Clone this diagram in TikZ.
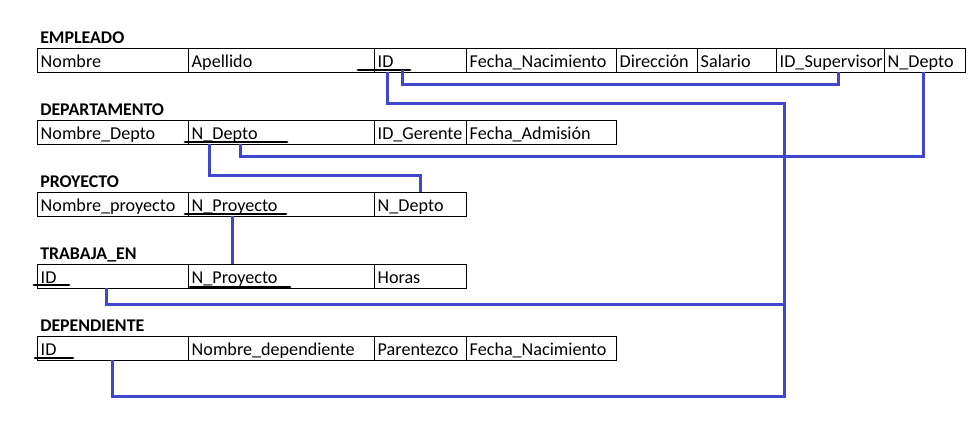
\documentclass[tikz,border=0pt]{standalone}
\usepackage{fontspec}
\setmainfont{Carlito}
\usetikzlibrary{calc}
\definecolor{linkblue}{HTML}{3F48CC}
\tikzset{
  cell/.style={draw=black, line width=0.75pt, anchor=north west, minimum height=18pt, inner sep=0pt, outer sep=0pt},
  ctext/.style={anchor=base west, inner sep=0pt, xshift=2.6pt, yshift=3.3pt, font=\fontsize{13.6pt}{16pt}\selectfont},
  ttl/.style={anchor=base west, inner sep=0pt, font=\fontsize{13.4pt}{16pt}\selectfont\bfseries},
  link/.style={draw=linkblue, line width=2.25pt, line join=miter},
  pk/.style={draw=black, line width=2.2pt, line cap=round},
}
\newcommand\cell[5]{\node[cell, minimum width={(#3-#2)*0.75pt}, label={[ctext]south west:#5}] (#1) at (#2,#4) {};}
\begin{document}
\begin{tikzpicture}[x=0.75pt,y=-0.75pt]
\useasboundingbox (0,0) rectangle (980,430);
% titles
\node[ttl] (tEmp) at (40,43) {EMPLEADO};
\node[ttl] (tDep) at (40,115) {DEPARTAMENTO};
\node[ttl] (tPro) at (40,187) {PROYECTO};
\node[ttl] (tTra) at (40,259) {TRABAJA\_EN};
\node[ttl] (tDpd) at (40,331) {DEPENDIENTE};
% EMPLEADO
\cell{eNom}{37}{188}{48}{Nombre}
\cell{eApe}{188}{374}{48}{Apellido}
\cell{eID}{374}{466}{48}{ID}
\cell{eFec}{466}{616}{48}{Fecha\_Nacimiento}
\cell{eDir}{616}{697}{48}{Dirección}
\cell{eSal}{697}{776}{48}{Salario}
\cell{eSup}{776}{884}{48}{ID\_Supervisor}
\cell{eNd}{884}{965}{48}{N\_Depto}
% DEPARTAMENTO
\cell{dNom}{37}{188}{120}{Nombre\_Depto}
\cell{dNd}{188}{374}{120}{N\_Depto}
\cell{dGer}{374}{466}{120}{ID\_Gerente}
\cell{dFec}{466}{616}{120}{Fecha\_Admisión}
% PROYECTO
\cell{pNom}{37}{188}{192}{Nombre\_proyecto}
\cell{pNp}{188}{374}{192}{N\_Proyecto}
\cell{pNd}{374}{466}{192}{N\_Depto}
% TRABAJA_EN
\cell{tID}{37}{188}{264}{ID}
\cell{tNp}{188}{374}{264}{N\_Proyecto}
\cell{tHor}{374}{466}{264}{Horas}
% DEPENDIENTE
\cell{qID}{37}{188}{336}{ID}
\cell{qNom}{188}{374}{336}{Nombre\_dependiente}
\cell{qPar}{374}{466}{336}{Parentezco}
\cell{qFec}{466}{616}{336}{Fecha\_Nacimiento}
% key underlines
\draw[pk] ($(eID.south west)+(-16,-2)$) -- ++(52,0);
\draw[pk] ($(dNd.south west)+(-3,-2)$) -- ++(102,0);
\draw[pk] ($(pNp.south west)+(-3,-2)$) -- ++(101,0);
\draw[pk] ($(tID.south west)+(-3,-3)$) -- ++(35,0);
\draw[pk] ($(tNp.south west)+(2,-1)$) -- ++(100,0);
\draw[pk] ($(qID.south west)+(-2,-2)$) -- ++(38,0);
% connectors
\draw[link] ($(eID.south west)+(13,0)$) |- (784,103) |- ($(qID.south west)+(75,36)$) -- ($(qID.south west)+(75,0)$);
\draw[link] ($(eID.south west)+(28,-2)$) |- ($(eSup.south west)+(62,12)$) -- ($(eSup.south west)+(62,0)$);
\draw[link] ($(eNd.south west)+(39,0)$) |- ($(dNd.south west)+(52,12)$) -- ($(dNd.south west)+(52,0)$);
\draw[link] ($(dNd.south west)+(21,0)$) |- ($(pNd.north west)+(46,-17)$) -- ($(pNd.north west)+(46,0)$);
\draw[link] ($(pNp.south west)+(44,0)$) -- ($(tNp.north west)+(44,0)$);
\draw[link] ($(tID.south west)+(69,0)$) |- ($(tHor.south west)+(410,16)$);
\end{tikzpicture}
\end{document}
